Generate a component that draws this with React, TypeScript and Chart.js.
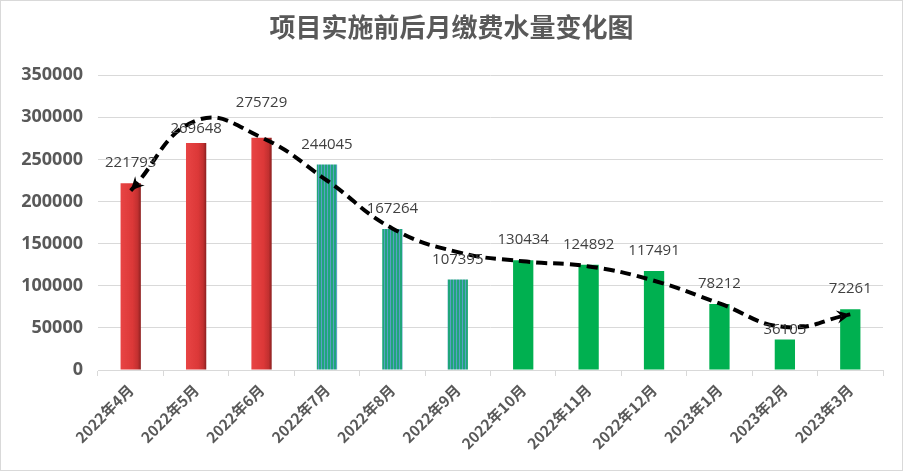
import React, { useEffect, useRef } from "react";
import { Chart, registerables } from "chart.js";

Chart.register(...registerables);

const TITLE = "项目实施前后月缴费水量变化图";
const categories = [
  "2022年4月", "2022年5月", "2022年6月", "2022年7月", "2022年8月", "2022年9月",
  "2022年10月", "2022年11月", "2022年12月", "2023年1月", "2023年2月", "2023年3月",
];
const waterVolume = [221793, 269648, 275729, 244045, 167264, 107395, 130434, 124892, 117491, 78212, 36105, 72261];
// hand-drawn trend curve (at each month)
const trendValues = [213000, 296000, 276000, 225000, 168000, 140000, 129000, 123000, 106000, 79000, 51000, 66000];
// bar styles by phase: 0 = red gradient, 1 = striped teal, 2 = solid green
const barPhase = [0, 0, 0, 1, 1, 1, 2, 2, 2, 2, 2, 2];
const yTicks = { min: 0, max: 350000, step: 50000 };
const labelLiftOverride: Record<number, number> = { 1: 14, 2: 35, 10: 10 };

let stripePattern: CanvasPattern | null = null;
function getStripes(ctx: CanvasRenderingContext2D) {
  if (stripePattern) return stripePattern;
  const c = document.createElement("canvas");
  c.width = 3;
  c.height = 4;
  const g = c.getContext("2d")!;
  g.fillStyle = "#1fa67a";
  g.fillRect(0, 0, 2, 4);
  g.fillStyle = "#5a9fc6";
  g.fillRect(2, 0, 1, 4);
  stripePattern = ctx.createPattern(c, "repeat");
  return stripePattern;
}

const dataLabelPlugin = {
  id: "dataLabels",
  afterDatasetsDraw(chart: any) {
    const meta = chart.getDatasetMeta(0);
    const ctx = chart.ctx;
    ctx.save();
    ctx.font = "15px 'Open Sans'";
    ctx.fillStyle = "#404040";
    ctx.textAlign = "center";
    ctx.textBaseline = "middle";
    meta.data.forEach((bar: any, i: number) => {
      const lift = labelLiftOverride[i] ?? 20;
      ctx.fillText(String(waterVolume[i]), bar.x, bar.y - lift);
    });
    ctx.restore();
  },
};

function drawArrow(ctx: CanvasRenderingContext2D, x: number, y: number, fx: number, fy: number) {
  const ang = Math.atan2(y - fy, x - fx);
  const len = 15;
  const w = 0.45;
  ctx.beginPath();
  ctx.moveTo(x, y);
  ctx.lineTo(x - len * Math.cos(ang - w), y - len * Math.sin(ang - w));
  ctx.lineTo(x - len * 0.6 * Math.cos(ang), y - len * 0.6 * Math.sin(ang));
  ctx.lineTo(x - len * Math.cos(ang + w), y - len * Math.sin(ang + w));
  ctx.closePath();
  ctx.fill();
}

const arrowPlugin = {
  id: "arrows",
  afterDatasetsDraw(chart: any) {
    const meta = chart.getDatasetMeta(1);
    const pts = meta.data;
    if (!pts || pts.length < 2) return;
    const ctx = chart.ctx;
    ctx.save();
    ctx.fillStyle = "#000";
    const first = pts[0];
    const last = pts[pts.length - 1];
    const fcx = first.cp2x ?? pts[1].x;
    const fcy = first.cp2y ?? pts[1].y;
    drawArrow(ctx, first.x, first.y, fcx, fcy);
    const lcx = last.cp1x ?? pts[pts.length - 2].x;
    const lcy = last.cp1y ?? pts[pts.length - 2].y;
    drawArrow(ctx, last.x, last.y, lcx, lcy);
    ctx.restore();
  },
};

export default function App() {
  const ref = useRef<HTMLCanvasElement>(null);
  useEffect(() => {
    const canvas = ref.current!;
    const chart = new Chart(canvas, {
      type: "bar",
      data: {
        labels: categories,
        datasets: [
          {
            type: "bar",
            data: waterVolume,
            order: 2,
            barPercentage: 0.62,
            categoryPercentage: 0.5,
            backgroundColor: (c: any) => {
              const i = c.dataIndex;
              const phase = barPhase[i];
              const ch = c.chart;
              if (phase === 2) return "#00b050";
              if (phase === 1) return getStripes(ch.ctx) || "#2aa58a";
              const xs = ch.scales?.x;
              if (!xs || !ch.chartArea) return "#de3a3a";
              const cx = xs.getPixelForValue(i);
              const g = ch.ctx.createLinearGradient(cx - 10, 0, cx + 10, 0);
              g.addColorStop(0, "#e84444");
              g.addColorStop(0.6, "#dc3838");
              g.addColorStop(0.85, "#c23030");
              g.addColorStop(1, "#8e2020");
              return g;
            },
          } as any,
          {
            type: "line",
            data: trendValues,
            order: 1,
            borderColor: "#000",
            borderWidth: 4,
            borderDash: [11, 6],
            tension: 0.45,
            pointRadius: 0,
            fill: false,
          } as any,
        ],
      },
      options: {
        animation: false,
        responsive: false,
        layout: { padding: { left: 19, right: 19, top: 0, bottom: 0 } },
        plugins: {
          legend: { display: false },
          tooltip: { enabled: false },
          title: {
            display: true,
            text: TITLE,
            color: "#595959",
            font: { family: "'Noto Sans CJK SC'", size: 26, weight: "bold", lineHeight: 1.2 },
            padding: { top: 11, bottom: 32 },
          },
        },
        scales: {
          x: {
            grid: { display: true, drawOnChartArea: false, offset: true, color: "#d9d9d9", tickLength: 6 },
            border: { color: "#d9d9d9" },
            afterFit: (s: any) => {
              s.height = 100;
            },
            ticks: {
              maxRotation: 45,
              minRotation: 45,
              autoSkip: false,
              color: "#595959",
              padding: 5,
              font: { family: "'Noto Sans CJK SC'", size: 15, weight: "bold" },
            },
          },
          y: {
            min: yTicks.min,
            max: yTicks.max,
            grid: { color: "#d9d9d9", drawTicks: false },
            border: { display: false },
            afterFit: (s: any) => {
              s.width = 78;
            },
            ticks: {
              stepSize: yTicks.step,
              color: "#595959",
              padding: 15,
              callback: (v: any) => String(v),
              font: { family: "'Open Sans'", size: 18, weight: "bold" },
            },
          },
        },
      },
      plugins: [dataLabelPlugin, arrowPlugin],
    } as any);
    return () => chart.destroy();
  }, []);
  return (
    <div
      style={{
        position: "absolute",
        left: 0,
        top: 0,
        width: 903,
        height: 471,
        background: "#fff",
        boxSizing: "border-box",
        border: "1px solid #d9d9d9",
      }}
    >
      <canvas ref={ref} width={901} height={469} style={{ display: "block" }} />
    </div>
  );
}
